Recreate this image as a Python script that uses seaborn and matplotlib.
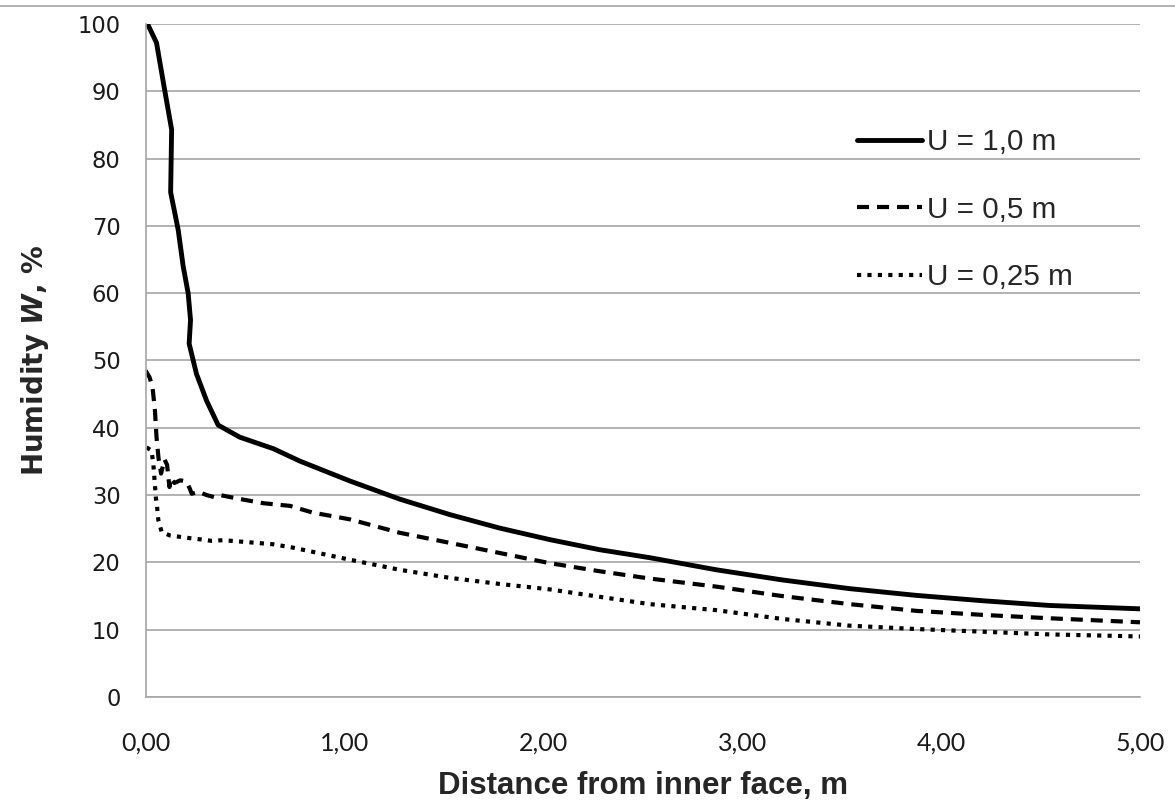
import matplotlib
matplotlib.use("Agg")
import matplotlib.pyplot as plt
from matplotlib.lines import Line2D
import seaborn as sns

# distance from inner face (m) and humidity W (%) for each series
d_u10 = [0.01, 0.055, 0.097, 0.131, 0.126, 0.164, 0.189, 0.214, 0.226, 0.219, 0.256,
         0.307, 0.365, 0.474, 0.642, 0.776, 1.027, 1.278, 1.53, 1.78, 2.03, 2.28,
         2.535, 2.87, 3.2, 3.54, 3.875, 4.21, 4.545, 5.0]
w_u10 = [100, 97.2, 90, 84.3, 75, 69.4, 64, 60, 56, 52.5, 48,
         44, 40.4, 38.6, 36.9, 35.05, 32.1, 29.4, 27.1, 25.1, 23.4, 21.9,
         20.7, 18.9, 17.4, 16.1, 15.1, 14.3, 13.6, 13.1]

d_u05 = [0.0, 0.02, 0.035, 0.047, 0.055, 0.065, 0.078, 0.095, 0.108, 0.12, 0.125,
         0.145, 0.175, 0.205, 0.222, 0.232, 0.265, 0.307, 0.345, 0.375, 0.46, 0.59,
         0.726, 0.84, 1.027, 1.278, 1.53, 1.78, 2.03, 2.28, 2.535, 2.87, 3.2, 3.54,
         3.875, 4.21, 4.545, 5.0]
w_u05 = [48.5, 47.5, 46, 42.6, 38.6, 35.5, 33.2, 35.3, 34.5, 31.2, 32.5,
         31.8, 32.2, 32.0, 31.0, 30.2, 30.5, 30.0, 29.7, 30.0, 29.5, 28.8,
         28.4, 27.4, 26.4, 24.4, 22.9, 21.4, 19.9, 18.7, 17.6, 16.4, 15.0, 13.8,
         12.8, 12.2, 11.7, 11.1]

d_u025 = [0.005, 0.03, 0.039, 0.047, 0.052, 0.056, 0.064, 0.081, 0.123, 0.173, 0.223,
          0.282, 0.332, 0.39, 0.475, 0.64, 0.74, 1.027, 1.278, 1.53, 1.78, 2.03,
          2.28, 2.535, 2.87, 3.2, 3.54, 3.875, 4.21, 4.545, 5.0]
w_u025 = [37.1, 36.6, 34.6, 31.5, 29.5, 28.8, 26.3, 24.5, 24.0, 23.8, 23.6,
          23.4, 23.2, 23.3, 23.1, 22.7, 22.2, 20.4, 18.9, 17.7, 16.8, 16.0,
          14.9, 13.8, 12.9, 11.6, 10.6, 10.1, 9.7, 9.3, 9.0]

labels = ["U = 1,0 m", "U = 0,5 m", "U = 0,25 m"]
x_ticks = [0, 1, 2, 3, 4, 5]
x_ticklabels = ["0,00", "1,00", "2,00", "3,00", "4,00", "5,00"]
y_ticks = list(range(0, 101, 10))

sns.set_theme(style="white")
plt.rcParams['font.family'] = ['Liberation Sans', 'DejaVu Sans']
plt.rcParams['mathtext.fontset'] = 'custom'
plt.rcParams['mathtext.it'] = 'DejaVu Sans:italic:bold'

GRID = '#a6a6a6'

fig = plt.figure(figsize=(11.75, 8.07), dpi=100)
ax = fig.add_axes([0.1239, 0.1363, 0.8463, 0.834])

series = [
    (d_u10, w_u10, '-', 3.5),
    (d_u05, w_u05, (0, (2.9, 1.9)), 3.0),
    (d_u025, w_u025, (0, (1.0, 1.5)), 3.0),
]
for (xs, ys, ls, lw), lab in zip(series, labels):
    sns.lineplot(x=xs, y=ys, ax=ax, sort=False, estimator=None, color='black',
                 linestyle=ls, linewidth=lw, label=lab)

ax.set_xlim(0, 5)
ax.set_ylim(0, 100)
ax.set_xticks(x_ticks)
ax.set_xticklabels(x_ticklabels, family=['Lato', 'DejaVu Sans'], fontsize=18)
ax.set_yticks(y_ticks)
ax.set_yticklabels([str(v) for v in y_ticks], family=['DejaVu Sans'], fontsize=16.3)

ax.yaxis.grid(True, color=GRID, linewidth=1.2)
ax.xaxis.grid(False)
for side in ['top', 'right']:
    ax.spines[side].set_visible(False)
for side in ['left', 'bottom']:
    ax.spines[side].set_color(GRID)
    ax.spines[side].set_linewidth(1.2)
ax.tick_params(axis='both', direction='out', length=7, width=1.2, color=GRID)
ax.tick_params(axis='x', pad=18)
ax.tick_params(axis='y', pad=11)
ax.tick_params(axis='both', labelcolor='#1a1a1a')

ax.set_xlabel("Distance from inner face, m", fontsize=22.5, fontweight='bold',
              family=['Liberation Sans Narrow', 'Liberation Sans'], va='top')
ax.xaxis.set_label_coords(0.5, -0.110)
ax.set_ylabel(r"Humidity $W$, %", fontsize=20, fontweight='bold', va='center',
              family=['DejaVu Sans'])
ax.yaxis.set_label_coords(-0.111, 0.5)

ax.legend(loc='upper left', bbox_to_anchor=(0.715, 0.8456), frameon=False,
          fontsize=21.3, handlelength=2.2, handletextpad=0.17,
          labelspacing=1.34, borderpad=0, borderaxespad=0)

# thin frame line across the top of the chart area
fig.add_artist(Line2D([0, 1], [1 - 6 / 807, 1 - 6 / 807], color=GRID, linewidth=1.2))

fig.savefig("out.png", dpi=100, facecolor='white')
